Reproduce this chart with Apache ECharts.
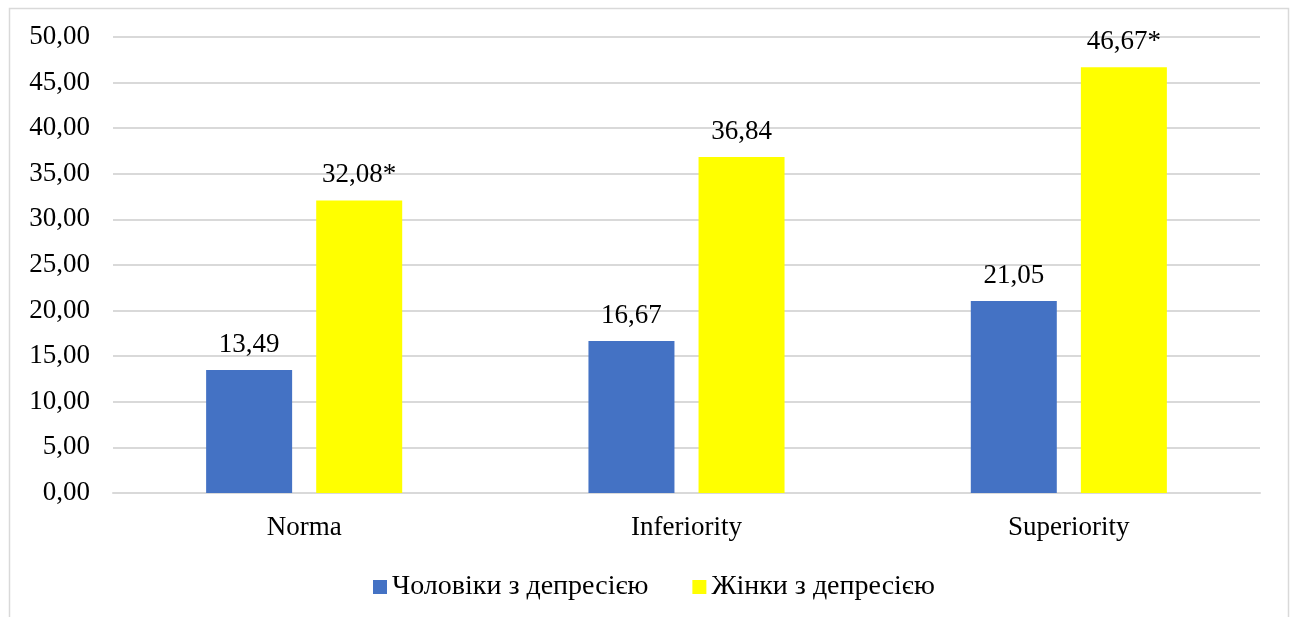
<!DOCTYPE html>
<html>
<head>
<meta charset="utf-8">
<script src="https://cdn.jsdelivr.net/npm/echarts@6/dist/echarts.min.js"></script>
<style>
  html, body { margin: 0; padding: 0; background: #fff; }
  #chart { width: 1292px; height: 617px; }
</style>
</head>
<body>
<div id="chart"></div>
<script>
var categories = ['Norma', 'Inferiority', 'Superiority'];
var menValues = [13.49, 16.67, 21.05];
var womenValues = [32.08, 36.84, 46.67];
var menMarks = ['', '', ''];
var womenMarks = ['*', '', '*'];
var seriesNames = ['Чоловіки з депресією', 'Жінки з депресією'];

var font = '"Liberation Serif", "Times New Roman", serif';

function comma(v) {
    return v.toFixed(2).replace('.', ',');
}

function labelFor(marks) {
    return {
        show: true,
        position: 'top',
        distance: 12,
        color: '#000',
        fontFamily: font,
        fontSize: 27,
        formatter: function (p) { return comma(p.value) + marks[p.dataIndex]; }
    };
}

var chart = echarts.init(document.getElementById('chart'));
chart.setOption({
    animation: false,
    graphic: [{
        type: 'rect',
        shape: { x: 9.5, y: 8.5, width: 1279, height: 640 },
        style: { fill: 'none', stroke: '#d9d9d9', lineWidth: 1.5 },
        silent: true
    }],
    grid: { left: 113, right: 32, top: 37, bottom: 124, containLabel: false },
    legend: {
        top: 568,
        left: 368,
        itemWidth: 14,
        itemHeight: 14,
        itemGap: 44,
        icon: 'rect',
        textStyle: { fontFamily: font, fontSize: 28, color: '#000' },
        data: seriesNames
    },
    xAxis: {
        type: 'category',
        data: categories,
        axisTick: { show: false },
        axisLine: { show: true, lineStyle: { color: '#d9d9d9', width: 2 } },
        axisLabel: { color: '#000', fontFamily: font, fontSize: 27, margin: 21 }
    },
    yAxis: {
        type: 'value',
        min: 0,
        max: 50,
        interval: 5,
        axisLine: { show: false },
        axisTick: { show: false },
        splitLine: { lineStyle: { color: '#d9d9d9', width: 2 } },
        axisLabel: {
            color: '#000', fontFamily: font, fontSize: 27, margin: 23,
            formatter: function (v) { return comma(v); }
        }
    },
    series: [{
        name: seriesNames[0],
        type: 'bar',
        data: menValues,
        barWidth: 86,
        barGap: '28%',
        itemStyle: { color: '#4472c4' },
        label: labelFor(menMarks)
    }, {
        name: seriesNames[1],
        type: 'bar',
        data: womenValues,
        barWidth: 86,
        itemStyle: { color: '#ffff00' },
        label: labelFor(womenMarks)
    }]
});
</script>
</body>
</html>
